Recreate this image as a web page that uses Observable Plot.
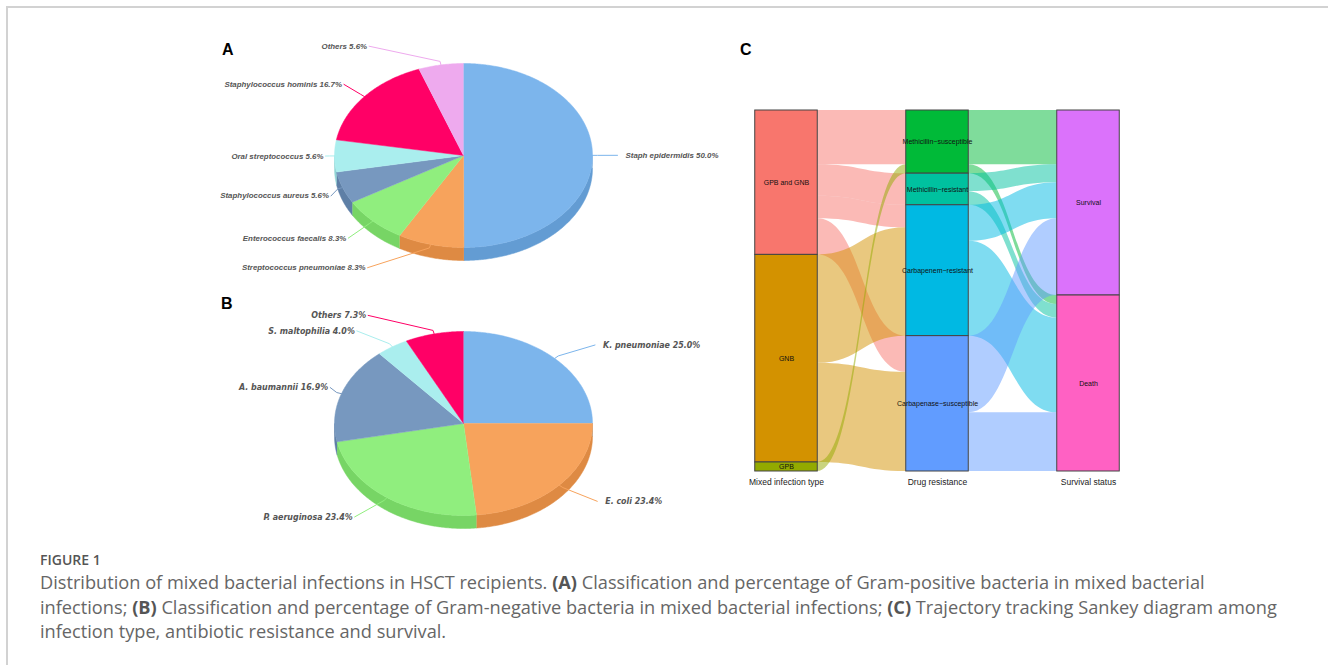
<!DOCTYPE html>
<html><head><meta charset="utf-8">
<script src="https://cdn.jsdelivr.net/npm/d3@7"></script>
<script src="https://cdn.jsdelivr.net/npm/@observablehq/plot@0.6"></script>
<style>
body{margin:0;background:#fff;}
#fig{position:relative;width:1328px;height:665px;overflow:hidden;font-family:"Open Sans",sans-serif;background:#fff;}
.frame{position:absolute;left:6px;top:6px;right:0;bottom:-10px;border-left:2px solid #d2d2d2;border-top:2px solid #d2d2d2;}
.panel{position:absolute;}
.panel svg{background:transparent;overflow:visible;}
.letter{position:absolute;font:bold 16px "Liberation Sans",Arial,sans-serif;color:#000;line-height:16px;}
.fignum{position:absolute;left:40px;top:552px;font-size:14px;line-height:16px;font-weight:600;color:#555;}
.caption{position:absolute;left:40px;top:570px;font-size:18.2px;line-height:24.5px;color:#666;white-space:nowrap;}
.caption b{font-weight:700;color:#555;}
</style></head>
<body>
<div id="fig">
  <div class="frame"></div>
  <div class="letter" style="left:222px;top:42px">A</div>
  <div class="letter" style="left:221px;top:296px">B</div>
  <div class="letter" style="left:740px;top:42px">C</div>
  <div id="pieA" class="panel" style="left:193px;top:25px"></div>
  <div id="pieB" class="panel" style="left:193px;top:293px"></div>
  <div id="sankey" class="panel" style="left:730px;top:90px"></div>
  <div class="fignum">FIGURE 1</div>
  <div class="caption">Distribution of mixed bacterial infections in HSCT recipients. <b>(A)</b> Classification and percentage of Gram-positive bacteria in mixed bacterial<br>infections; <b>(B)</b> Classification and percentage of Gram-negative bacteria in mixed bacterial infections; <b>(C)</b> Trajectory tracking Sankey diagram among<br>infection type, antibiotic resistance and survival.</div>
</div>
<script>
// ---------------- DATA ----------------
// (A) Gram-positive bacteria, clockwise from 12 o'clock
const gpNames = ["Staph epidermidis", "Streptococcus pneumoniae", "Enterococcus faecalis", "Staphylococcus aureus", "Oral streptococcus", "Staphylococcus hominis", "Others"];
const gpPercent = [50.0, 8.3, 8.3, 5.6, 5.6, 16.7, 5.6];
// (B) Gram-negative bacteria, clockwise from 12 o'clock
const gnNames = ["K. pneumoniae", "E. coli", "P. aeruginosa", "A. baumannii", "S. maltophilia", "Others"];
const gnPercent = [25.0, 23.4, 23.4, 16.9, 4.0, 7.3];
const pieColors = ["#7cb5ec", "#f7a35c", "#90ee7e", "#7798BF", "#aaeeee", "#ff0066", "#eeaaee"];

// (C) Sankey
const axisTitles = ["Mixed infection type", "Drug resistance", "Survival status"];
const infectionTypes = ["GPB and GNB", "GNB", "GPB"];
const resistanceTypes = ["Methicillin\u2212susceptible", "Methicillin\u2212resistant", "Carbapenem\u2212resistant", "Carbapenase\u2212susceptible"];
const survivalTypes = ["Survival", "Death"];
const nodeColors = ["#F8766D", "#D39200", "#93AA00", "#00BA38", "#00C19F", "#00B9E3", "#619CFF", "#DB72FB", "#FF61C3"];
const flowInfectionSource = ["GPB and GNB", "GPB and GNB", "GPB and GNB", "GPB and GNB", "GNB", "GNB", "GPB"];
const flowInfectionTarget = ["Methicillin\u2212susceptible", "Methicillin\u2212resistant", "Carbapenem\u2212resistant", "Carbapenase\u2212susceptible", "Carbapenem\u2212resistant", "Carbapenase\u2212susceptible", "Methicillin\u2212susceptible"];
const flowInfectionValue = [12, 7, 5, 8, 24, 22, 2];
const flowSurvivalSource = ["Methicillin\u2212susceptible", "Methicillin\u2212susceptible", "Methicillin\u2212resistant", "Methicillin\u2212resistant", "Carbapenem\u2212resistant", "Carbapenem\u2212resistant", "Carbapenase\u2212susceptible", "Carbapenase\u2212susceptible"];
const flowSurvivalTarget = ["Survival", "Death", "Survival", "Death", "Survival", "Death", "Survival", "Death"];
const flowSurvivalValue = [12, 2, 4, 3, 8, 21, 17, 13];

// ---------------- PIES ----------------
function darken(c) { const r = d3.rgb(c); return d3.rgb(r.r - 25.5, r.g - 25.5, r.b - 25.5).formatHex(); }

function piePlot(names, values, colors, font, fontSize, W, H) {
  const s = 129, tilt = 92 / 129, depth = 13 / 129;
  const total = d3.sum(values);
  let acc = 0;
  const slices = values.map((v, i) => {
    const a0 = acc / total * 2 * Math.PI; acc += v;
    const a1 = acc / total * 2 * Math.PI;
    return {i, name: names[i], value: v, a0, a1, color: colors[i]};
  });
  const arc = (a0, a1, dy = 0) => {
    const n = Math.max(2, Math.ceil((a1 - a0) / 0.01));
    return d3.range(n + 1).map(k => { const a = a0 + (a1 - a0) * k / n; return [Math.sin(a), tilt * Math.cos(a) - dy]; });
  };
  const sides = [], tops = [], labels = [], conns = [];
  for (const sl of slices) {
    const b0 = Math.max(sl.a0, Math.PI / 2), b1 = Math.min(sl.a1, 3 * Math.PI / 2);
    if (b1 > b0) {
      const pts = arc(b0, b1).concat(arc(b0, b1, depth).reverse());
      pts.forEach(p => sides.push({id: sl.i, x: p[0], y: p[1], c: darken(sl.color)}));
    }
    [[0, 0], ...arc(sl.a0, sl.a1)].forEach(p => tops.push({id: sl.i, x: p[0], y: p[1], c: sl.color}));
    const mid = (sl.a0 + sl.a1) / 2, c = Math.cos(mid), sn = Math.sin(mid);
    const right = sn >= 0;
    const ly = c * (c > 0 ? 111 : 116) / s;
    const lx = right ? (162 - 45 * c * c) / s : -(140 - 45 * c * c) / s;
    labels.push({x: lx, y: ly, text: `${sl.name} ${sl.value.toFixed(1)}%`, anchor: right ? "start" : "end"});
    const ex = sn, ey = tilt * c;
    const bx = ex + sn * 5 / s, by = ey + tilt * c * 5 / s;
    const sx = right ? lx - 8 / s : lx + 2 / s;
    [[sx, ly], [bx, by], [ex, ey]].forEach(p => conns.push({id: sl.i, x: p[0], y: p[1], c: sl.color}));
  }
  const textOpts = {x: "x", y: "y", text: "text", fill: "#555", fontWeight: "bold", fontStyle: "italic", fontSize, fontFamily: font};
  return Plot.plot({
    width: W, height: H, margin: 0,
    x: {domain: [-W / 2 / s, W / 2 / s], axis: null},
    y: {domain: [-H / 2 / s, H / 2 / s], axis: null},
    color: {type: "identity"},
    style: {background: "transparent"},
    marks: [
      Plot.line(sides, {x: "x", y: "y", z: "id", fill: "c", stroke: "c", strokeWidth: 0.5, curve: "linear"}),
      Plot.line(tops, {x: "x", y: "y", z: "id", fill: "c", stroke: "c", strokeWidth: 0.5, curve: "linear"}),
      Plot.line(conns, {x: "x", y: "y", z: "id", stroke: "c", strokeWidth: 1}),
      Plot.text(labels.filter(d => d.anchor === "start"), {...textOpts, textAnchor: "start"}),
      Plot.text(labels.filter(d => d.anchor === "end"), {...textOpts, textAnchor: "end"})
    ]
  });
}

document.getElementById("pieA").append(piePlot(gpNames, gpPercent, pieColors, "Liberation Sans, Arial, sans-serif", 7.9, 540, 260));
document.getElementById("pieB").append(piePlot(gnNames, gnPercent, pieColors, "DejaVu Sans Condensed, DejaVu Sans, sans-serif", 8.8, 540, 260));

// ---------------- SANKEY ----------------
const columns = [infectionTypes, resistanceTypes, survivalTypes];
const flows1 = flowInfectionSource.map((s, i) => ({s, t: flowInfectionTarget[i], v: flowInfectionValue[i], col: 0}));
const flows2 = flowSurvivalSource.map((s, i) => ({s, t: flowSurvivalTarget[i], v: flowSurvivalValue[i], col: 1}));
const nodes = [];
let ci = 0;
columns.forEach((names, col) => {
  let y = 0;
  names.forEach(name => {
    const v = col === 0 ? d3.sum(flows1.filter(f => f.s === name), f => f.v)
            : col === 1 ? d3.sum(flows1.filter(f => f.t === name), f => f.v)
            : d3.sum(flows2.filter(f => f.t === name), f => f.v);
    nodes.push({name, col: col + 1, y0: y, y1: y + v, color: nodeColors[ci++], out: y, inn: y});
    y += v;
  });
});
const nodeBy = new Map(nodes.map(n => [n.name, n]));
const hw = 0.207;
const areaPts = [];
let fid = 0;
for (const fl of [flows1, flows2]) {
  const srcNames = columns[fl[0].col], tgtNames = columns[fl[0].col + 1];
  const outOrder = fl.slice().sort((a, b) => srcNames.indexOf(a.s) - srcNames.indexOf(b.s) || tgtNames.indexOf(a.t) - tgtNames.indexOf(b.t));
  const sy = new Map();
  for (const f of outOrder) { const n = nodeBy.get(f.s); sy.set(f, [n.out, n.out + f.v]); n.out += f.v; }
  const inOrder = fl.slice().sort((a, b) => tgtNames.indexOf(a.t) - tgtNames.indexOf(b.t) || srcNames.indexOf(a.s) - srcNames.indexOf(b.s));
  const ty = new Map();
  for (const f of inOrder) { const n = nodeBy.get(f.t); ty.set(f, [n.inn, n.inn + f.v]); n.inn += f.v; }
  for (const f of fl) {
    const src = nodeBy.get(f.s), tgt = nodeBy.get(f.t);
    const [a0, a1] = sy.get(f), [b0, b1] = ty.get(f);
    areaPts.push({id: fid, x: src.col + hw, y1: a0, y2: a1, c: src.color});
    areaPts.push({id: fid, x: tgt.col - hw, y1: b0, y2: b1, c: src.color});
    fid++;
  }
}

const sankey = Plot.plot({
  width: 400, height: 410,
  marginLeft: 0, marginRight: 0, marginTop: 20, marginBottom: 29,
  x: {domain: [1 - 56 / 151, 1 + 344 / 151], axis: null},
  y: {domain: [80, 0], axis: null},
  color: {type: "identity"},
  style: {background: "transparent", color: "#222"},
  marks: [
    Plot.area(areaPts, {x1: "x", y1: "y1", y2: "y2", z: "id", fill: "c", fillOpacity: 0.5, curve: "bump-x"}),
    Plot.rect(nodes, {x1: d => d.col - hw, x2: d => d.col + hw, y1: "y0", y2: "y1", fill: "color", stroke: "#444", strokeWidth: 1}),
    Plot.text(nodes, {x: "col", y: d => (d.y0 + d.y1) / 2, text: "name", fontSize: 7, fill: "#111", fontFamily: "Liberation Sans, Arial, sans-serif"}),
    Plot.axisX([1, 2, 3], {tickFormat: i => axisTitles[i - 1], tickSize: 0, tickPadding: 7, fontSize: 8.5, label: null, fontFamily: "Liberation Sans, Arial, sans-serif"})
  ]
});
document.getElementById("sankey").append(sankey);
</script>
</body></html>
